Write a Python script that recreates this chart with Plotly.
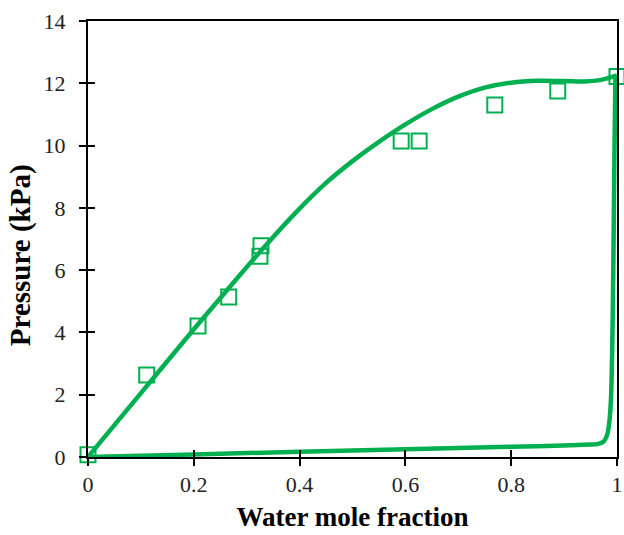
import plotly.graph_objects as go

# Experimental total pressure vs. water mole fraction
x_exp = [0.0, 0.111, 0.208, 0.266, 0.325, 0.327, 0.592, 0.626, 0.769, 0.888, 1.0]
p_exp = [0.07, 2.63, 4.21, 5.14, 6.45, 6.78, 10.15, 10.15, 11.30, 11.75, 12.22]

# Model bubble-point curve
x_bub = [0.0, 0.1, 0.2, 0.28, 0.33, 0.39, 0.45, 0.5, 0.55, 0.6, 0.65, 0.7, 0.75,
         0.8, 0.85, 0.9, 0.94, 0.97, 1.0]
p_bub = [0.0, 2.05, 4.1, 5.7, 6.68, 7.8, 8.8, 9.5, 10.12, 10.68, 11.17, 11.57, 11.86,
         12.02, 12.08, 12.07, 12.06, 12.11, 12.25]

# Model dew-point curve
x_dew = [0.0, 0.2, 0.4, 0.6, 0.8, 0.9, 0.95, 0.965, 0.975, 0.982, 0.986, 0.989,
         0.991, 0.993, 0.995, 0.997]
p_dew = [0.0, 0.08, 0.17, 0.25, 0.33, 0.37, 0.4, 0.42, 0.5, 0.75, 1.2, 2.0,
         3.5, 6.0, 9.5, 12.25]

x_ticks = [0, 0.2, 0.4, 0.6, 0.8, 1]
x_tick_text = ["0", "0.2", "0.4", "0.6", "0.8", "1"]
y_ticks = [0, 2, 4, 6, 8, 10, 12, 14]

GREEN = "#00B050"
FONT = "Liberation Serif, Times New Roman, serif"

fig = go.Figure()
fig.add_trace(go.Scatter(x=x_bub, y=p_bub, mode="lines",
                         line=dict(color=GREEN, width=4.5, shape="spline", smoothing=1.0),
                         showlegend=False, hoverinfo="skip"))
fig.add_trace(go.Scatter(x=x_dew, y=p_dew, mode="lines",
                         line=dict(color=GREEN, width=4.5, shape="spline", smoothing=0.5),
                         showlegend=False, hoverinfo="skip"))
fig.add_trace(go.Scatter(x=x_exp, y=p_exp, mode="markers", cliponaxis=False,
                         marker=dict(symbol="square-open", size=15, color=GREEN,
                                     line=dict(color=GREEN, width=2)),
                         showlegend=False))
# invisible trace carrying the inner tick marks
fig.add_trace(go.Scatter(x=[0], y=[0], xaxis="x2", yaxis="y2", mode="markers",
                         marker=dict(opacity=0), showlegend=False, hoverinfo="skip"))

axis_common = dict(showgrid=False, zeroline=False, tickcolor="black", tickwidth=2,
                   automargin=False, tickfont=dict(family=FONT, size=22, color="#222"))

fig.update_layout(
    width=624, height=535,
    margin=dict(l=88, r=7, t=21, b=78),
    paper_bgcolor="white", plot_bgcolor="white",
    xaxis=dict(range=[0, 1], tickvals=x_ticks, ticktext=x_tick_text, ticks="outside", ticklen=7,
               showline=True, linecolor="black", linewidth=2, mirror=True,
               title=dict(text="<b>Water mole fraction</b>",
                          font=dict(family=FONT, size=27, color="black"), standoff=11),
               **axis_common),
    yaxis=dict(range=[0, 14], tickvals=y_ticks, ticks="outside", ticklen=7,
               showline=True, linecolor="black", linewidth=2, mirror=True,
               ticklabelstandoff=9, **axis_common),
    xaxis2=dict(range=[0, 1], overlaying="x", tickvals=x_ticks, ticks="inside", ticklen=7,
                showticklabels=False, showline=False, showgrid=False, zeroline=False,
                tickcolor="black", tickwidth=2, automargin=False),
    yaxis2=dict(range=[0, 14], overlaying="y", tickvals=y_ticks, ticks="inside", ticklen=7,
                showticklabels=False, showline=False, showgrid=False, zeroline=False,
                tickcolor="black", tickwidth=2, automargin=False),
    annotations=[dict(text="<b>Pressure (kPa)</b>", textangle=-90, showarrow=False,
                      xref="paper", yref="paper", x=-0.1285, y=0.463,
                      xanchor="center", yanchor="middle",
                      font=dict(family=FONT, size=29, color="black"))],
)

fig.write_html("out.html")
